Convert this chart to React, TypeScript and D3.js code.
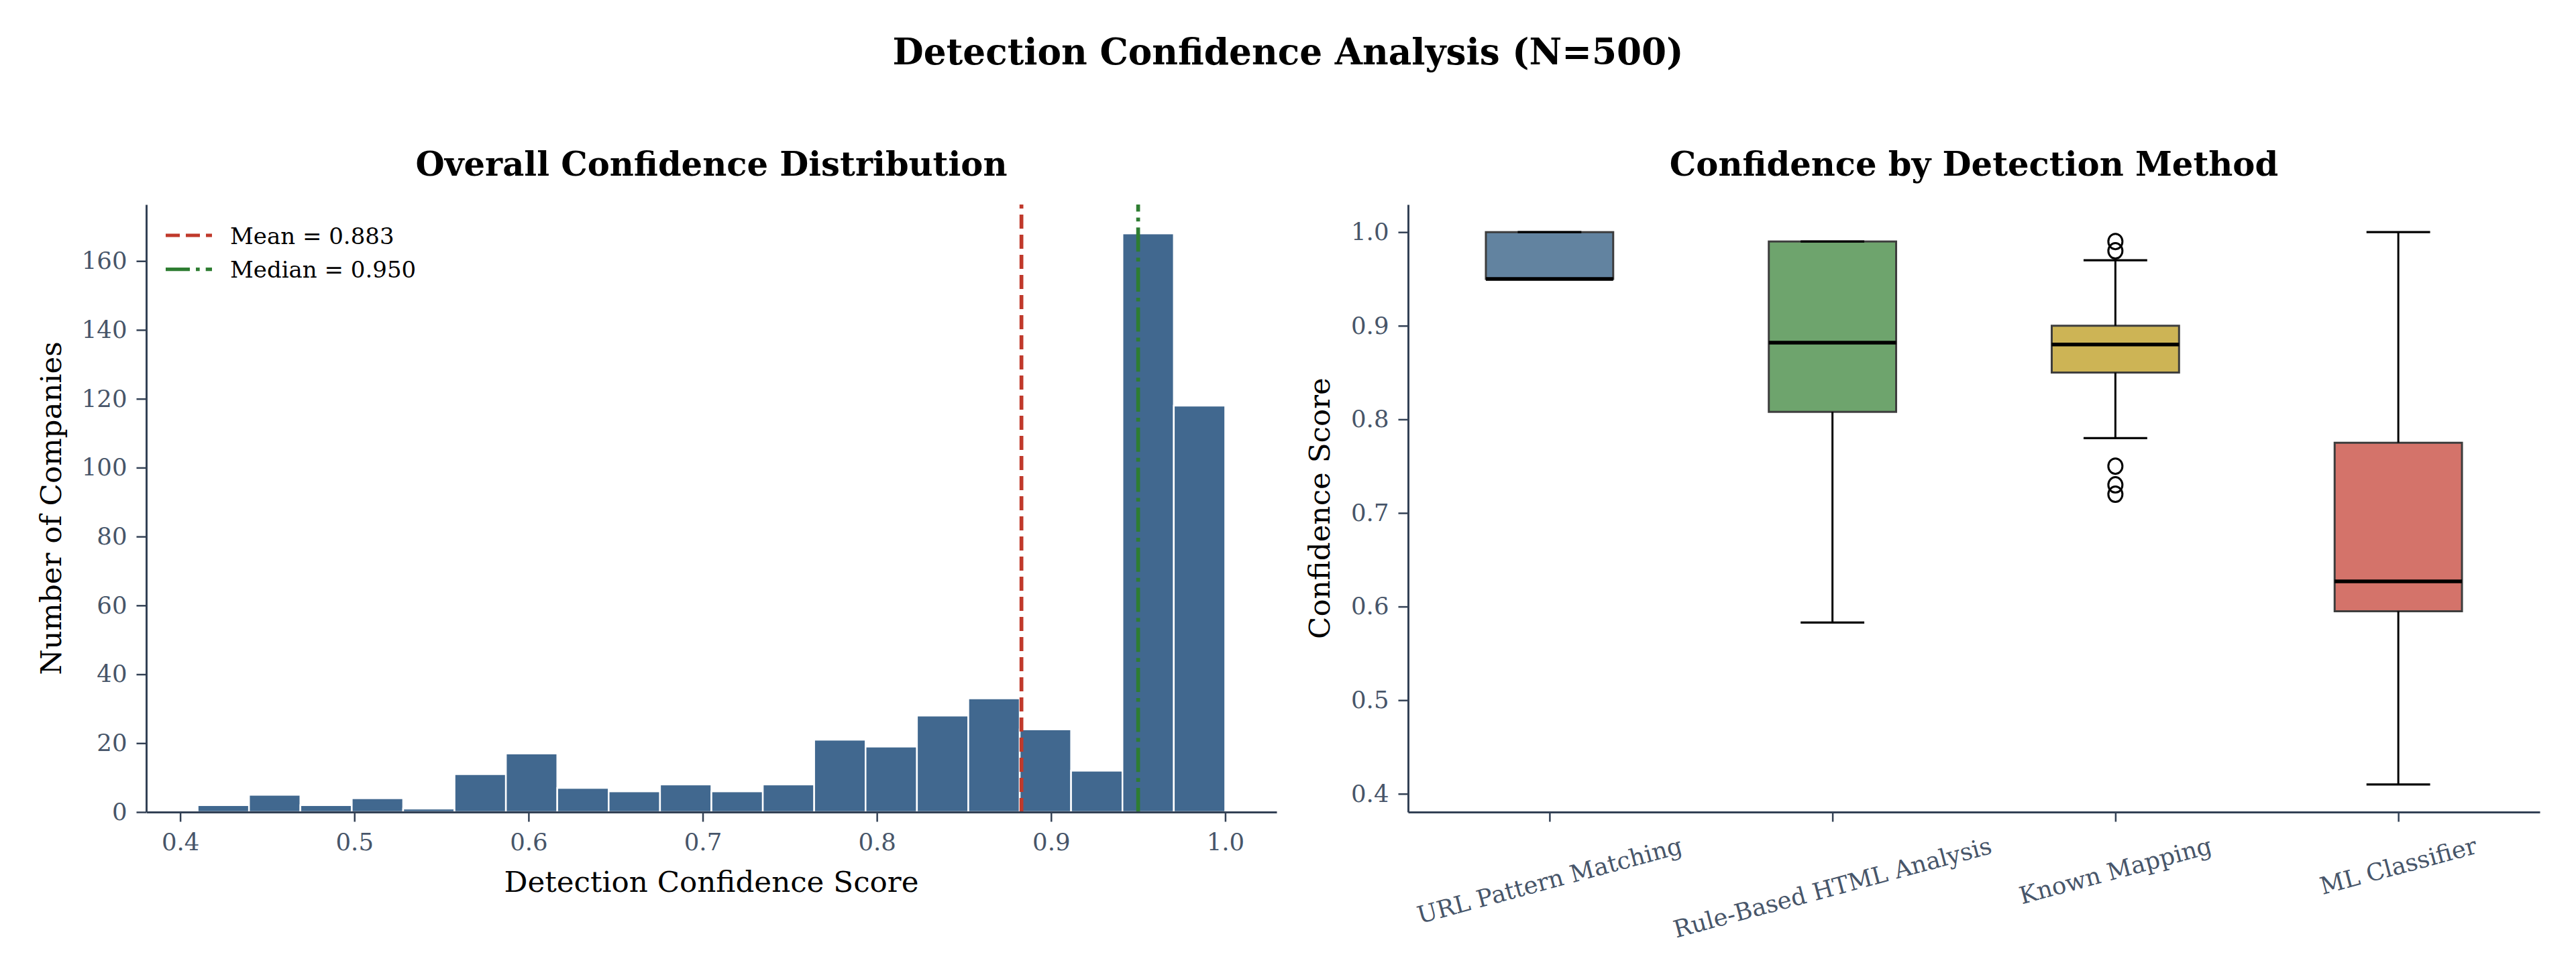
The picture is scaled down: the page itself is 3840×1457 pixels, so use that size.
import { useEffect, useRef } from 'react'
import * as d3 from 'd3'

// histogram: 20 equal bins between the min and max score
const histCounts = [2, 5, 2, 4, 1, 11, 17, 7, 6, 8, 6, 8, 21, 19, 28, 33, 24, 12, 168, 118]
const histRange = [0.41, 1.0]
const scoreTicks = [0.4, 0.5, 0.6, 0.7, 0.8, 0.9, 1.0]
const countTicks = [0, 20, 40, 60, 80, 100, 120, 140, 160]
const meanScore = 0.883
const medianScore = 0.95

// box plot stats per detection method
const methods = ['URL Pattern Matching', 'Rule-Based HTML Analysis', 'Known Mapping', 'ML Classifier']
const whiskerLow = [0.95, 0.583, 0.78, 0.41]
const q1 = [0.95, 0.808, 0.85, 0.595]
const medians = [0.95, 0.882, 0.88, 0.627]
const q3 = [1.0, 0.99, 0.9, 0.775]
const whiskerHigh = [1.0, 0.99, 0.97, 1.0]
const outliers = [[], [], [0.99, 0.98, 0.75, 0.73, 0.72], []]
const boxColors = ['#6283a0', '#6ea46d', '#cdb455', '#d4736a']

const FONT = '"DejaVu Serif", serif'
const SPINE = '#334155'
const TICK_TEXT = '#475569'
const TICK_SIZE = 35.5

export default function App() {
  const svgRef = useRef<SVGSVGElement>(null)

  useEffect(() => {
    if (!svgRef.current) return
    document.body.style.margin = '0'

    const svg = d3.select(svgRef.current)
    svg.selectAll('*').remove()

    const top = 305
    const bottom = 1211

    const styleAxis = (g: any) => {
      g.attr('font-family', FONT).attr('font-size', TICK_SIZE)
      g.select('.domain').attr('stroke', SPINE).attr('stroke-width', 3)
      g.selectAll('.tick line').attr('stroke', SPINE).attr('stroke-width', 2.5)
      g.selectAll('.tick text').attr('fill', TICK_TEXT)
    }

    // Suptitle
    svg
      .append('text')
      .attr('x', 1920)
      .attr('y', 96)
      .attr('text-anchor', 'middle')
      .attr('font-family', FONT)
      .attr('font-weight', 'bold')
      .attr('font-size', 53.3)
      .text('Detection Confidence Analysis (N=500)')

    // ---------- Left: histogram ----------
    const xL = d3.scaleLinear().domain([0.3805, 1.0295]).range([218, 1903])
    const yL = d3.scaleLinear().domain([0, 176.4]).range([bottom, top])

    const n = histCounts.length
    const step = (histRange[1] - histRange[0]) / n
    const bins = histCounts.map((c, i) => ({
      x0: histRange[0] + i * step,
      x1: histRange[0] + (i + 1) * step,
      count: c,
    }))

    const left = svg.append('g')

    left
      .selectAll('rect.bar')
      .data(bins)
      .enter()
      .append('rect')
      .attr('class', 'bar')
      .attr('x', d => xL(d.x0))
      .attr('width', d => xL(d.x1) - xL(d.x0))
      .attr('y', d => yL(d.count))
      .attr('height', d => yL(0) - yL(d.count))
      .attr('fill', '#41688f')
      .attr('stroke', '#fff')
      .attr('stroke-width', 2.5)

    // mean / median lines (drawn bottom to top like axvline)
    left
      .append('line')
      .attr('x1', xL(meanScore))
      .attr('x2', xL(meanScore))
      .attr('y1', bottom)
      .attr('y2', top)
      .attr('stroke', '#c0392b')
      .attr('stroke-width', 5.7)
      .attr('stroke-dasharray', '21,9')

    left
      .append('line')
      .attr('x1', xL(medianScore))
      .attr('x2', xL(medianScore))
      .attr('y1', bottom)
      .attr('y2', top)
      .attr('stroke', '#2e7d32')
      .attr('stroke-width', 5.7)
      .attr('stroke-dasharray', '36,9,5.7,9')

    left
      .append('g')
      .attr('transform', `translate(${xL.range()[0]},0)`)
      .call(d3.axisLeft(yL).tickValues(countTicks).tickSize(14.5).tickPadding(14).tickSizeOuter(0))
      .call(styleAxis)

    left
      .append('g')
      .attr('transform', `translate(0,${bottom})`)
      .call(
        d3
          .axisBottom(xL)
          .tickValues(scoreTicks)
          .tickFormat(d3.format('.1f'))
          .tickSize(14.5)
          .tickPadding(17)
          .tickSizeOuter(0)
      )
      .call(styleAxis)

    // legend
    const legendItems = [
      { label: `Mean = ${meanScore.toFixed(3)}`, color: '#c0392b', dash: '21,9' },
      { label: `Median = ${medianScore.toFixed(3)}`, color: '#2e7d32', dash: '36,9,5.7,9' },
    ]
    legendItems.forEach((item, i) => {
      const cy = 351 + i * 50.7
      left
        .append('line')
        .attr('x1', 247)
        .attr('x2', 316)
        .attr('y1', cy)
        .attr('y2', cy)
        .attr('stroke', item.color)
        .attr('stroke-width', 5.2)
        .attr('stroke-dasharray', item.dash)
      left
        .append('text')
        .attr('x', 343)
        .attr('y', cy + 12.5)
        .attr('font-family', FONT)
        .attr('font-size', 34)
        .attr('fill', '#000')
        .text(item.label)
    })

    left
      .append('text')
      .attr('x', (xL.range()[0] + xL.range()[1]) / 2)
      .attr('y', 262)
      .attr('text-anchor', 'middle')
      .attr('font-family', FONT)
      .attr('font-weight', 'bold')
      .attr('font-size', 49.6)
      .text('Overall Confidence Distribution')

    left
      .append('text')
      .attr('x', (xL.range()[0] + xL.range()[1]) / 2)
      .attr('y', 1330)
      .attr('text-anchor', 'middle')
      .attr('font-family', FONT)
      .attr('font-size', 43.6)
      .text('Detection Confidence Score')

    left
      .append('text')
      .attr('transform', `translate(91,${(top + bottom) / 2}) rotate(-90)`)
      .attr('text-anchor', 'middle')
      .attr('font-family', FONT)
      .attr('font-size', 43.6)
      .text('Number of Companies')

    // ---------- Right: box plot ----------
    const xR = d3.scaleLinear().domain([0.5, 4.5]).range([2099, 3786])
    const yR = d3.scaleLinear().domain([0.3805, 1.0295]).range([bottom, top])
    const halfBox = 0.225
    const halfCap = halfBox / 2

    const right = svg.append('g')

    methods.forEach((m, i) => {
      const pos = i + 1
      const g = right.append('g')
      g.append('rect')
        .attr('x', xR(pos - halfBox))
        .attr('width', xR(pos + halfBox) - xR(pos - halfBox))
        .attr('y', yR(q3[i]))
        .attr('height', yR(q1[i]) - yR(q3[i]))
        .attr('fill', boxColors[i])
        .attr('stroke', '#3d3d3d')
        .attr('stroke-width', 3)

      // whiskers
      g.append('line')
        .attr('x1', xR(pos))
        .attr('x2', xR(pos))
        .attr('y1', yR(q1[i]))
        .attr('y2', yR(whiskerLow[i]))
        .attr('stroke', '#000')
        .attr('stroke-width', 3)
      g.append('line')
        .attr('x1', xR(pos))
        .attr('x2', xR(pos))
        .attr('y1', yR(q3[i]))
        .attr('y2', yR(whiskerHigh[i]))
        .attr('stroke', '#000')
        .attr('stroke-width', 3)

      // caps
      ;[whiskerLow[i], whiskerHigh[i]].forEach(v => {
        g.append('line')
          .attr('x1', xR(pos - halfCap))
          .attr('x2', xR(pos + halfCap))
          .attr('y1', yR(v))
          .attr('y2', yR(v))
          .attr('stroke', '#000')
          .attr('stroke-width', 3.3)
      })

      // median
      g.append('line')
        .attr('x1', xR(pos - halfBox))
        .attr('x2', xR(pos + halfBox))
        .attr('y1', yR(medians[i]))
        .attr('y2', yR(medians[i]))
        .attr('stroke', '#000')
        .attr('stroke-width', 5.5)

      // fliers
      g.selectAll('circle')
        .data(outliers[i])
        .enter()
        .append('ellipse')
        .attr('cx', xR(pos))
        .attr('cy', d => yR(d))
        .attr('rx', 10.5)
        .attr('ry', 11.5)
        .attr('fill', 'none')
        .attr('stroke', '#000')
        .attr('stroke-width', 3)
    })

    right
      .append('g')
      .attr('transform', `translate(${xR.range()[0]},0)`)
      .call(
        d3
          .axisLeft(yR)
          .tickValues(scoreTicks)
          .tickFormat(d3.format('.1f'))
          .tickSize(14.5)
          .tickPadding(14)
          .tickSizeOuter(0)
      )
      .call(styleAxis)

    right
      .append('g')
      .attr('transform', `translate(0,${bottom})`)
      .call(
        d3
          .axisBottom(xR)
          .tickValues([1, 2, 3, 4])
          .tickFormat(() => '')
          .tickSize(14.5)
          .tickSizeOuter(0)
      )
      .call(styleAxis)

    // rotated category labels, bbox centred under each tick
    const rot = (15 * Math.PI) / 180
    methods.forEach((m, i) => {
      const t = right
        .append('text')
        .attr('text-anchor', 'middle')
        .attr('dy', '0.35em')
        .attr('font-family', FONT)
        .attr('font-size', TICK_SIZE)
        .attr('fill', TICK_TEXT)
        .text(m)
      const w = (t.node() as SVGTextElement).getComputedTextLength()
      const lh = TICK_SIZE * 1.17
      const bh = w * Math.sin(rot) + lh * Math.cos(rot)
      const cy = 1240 + bh / 2
      t.attr('transform', `translate(${xR(i + 1)},${cy}) rotate(-15)`)
    })

    right
      .append('text')
      .attr('x', (xR.range()[0] + xR.range()[1]) / 2)
      .attr('y', 262)
      .attr('text-anchor', 'middle')
      .attr('font-family', FONT)
      .attr('font-weight', 'bold')
      .attr('font-size', 49.6)
      .text('Confidence by Detection Method')

    right
      .append('text')
      .attr('transform', `translate(1982,${(top + bottom) / 2}) rotate(-90)`)
      .attr('text-anchor', 'middle')
      .attr('font-family', FONT)
      .attr('font-size', 43.6)
      .text('Confidence Score')
  }, [])

  return (
    <svg
      ref={svgRef}
      width={3840}
      height={1457}
      style={{ display: 'block', background: '#fff' }}
    ></svg>
  )
}
